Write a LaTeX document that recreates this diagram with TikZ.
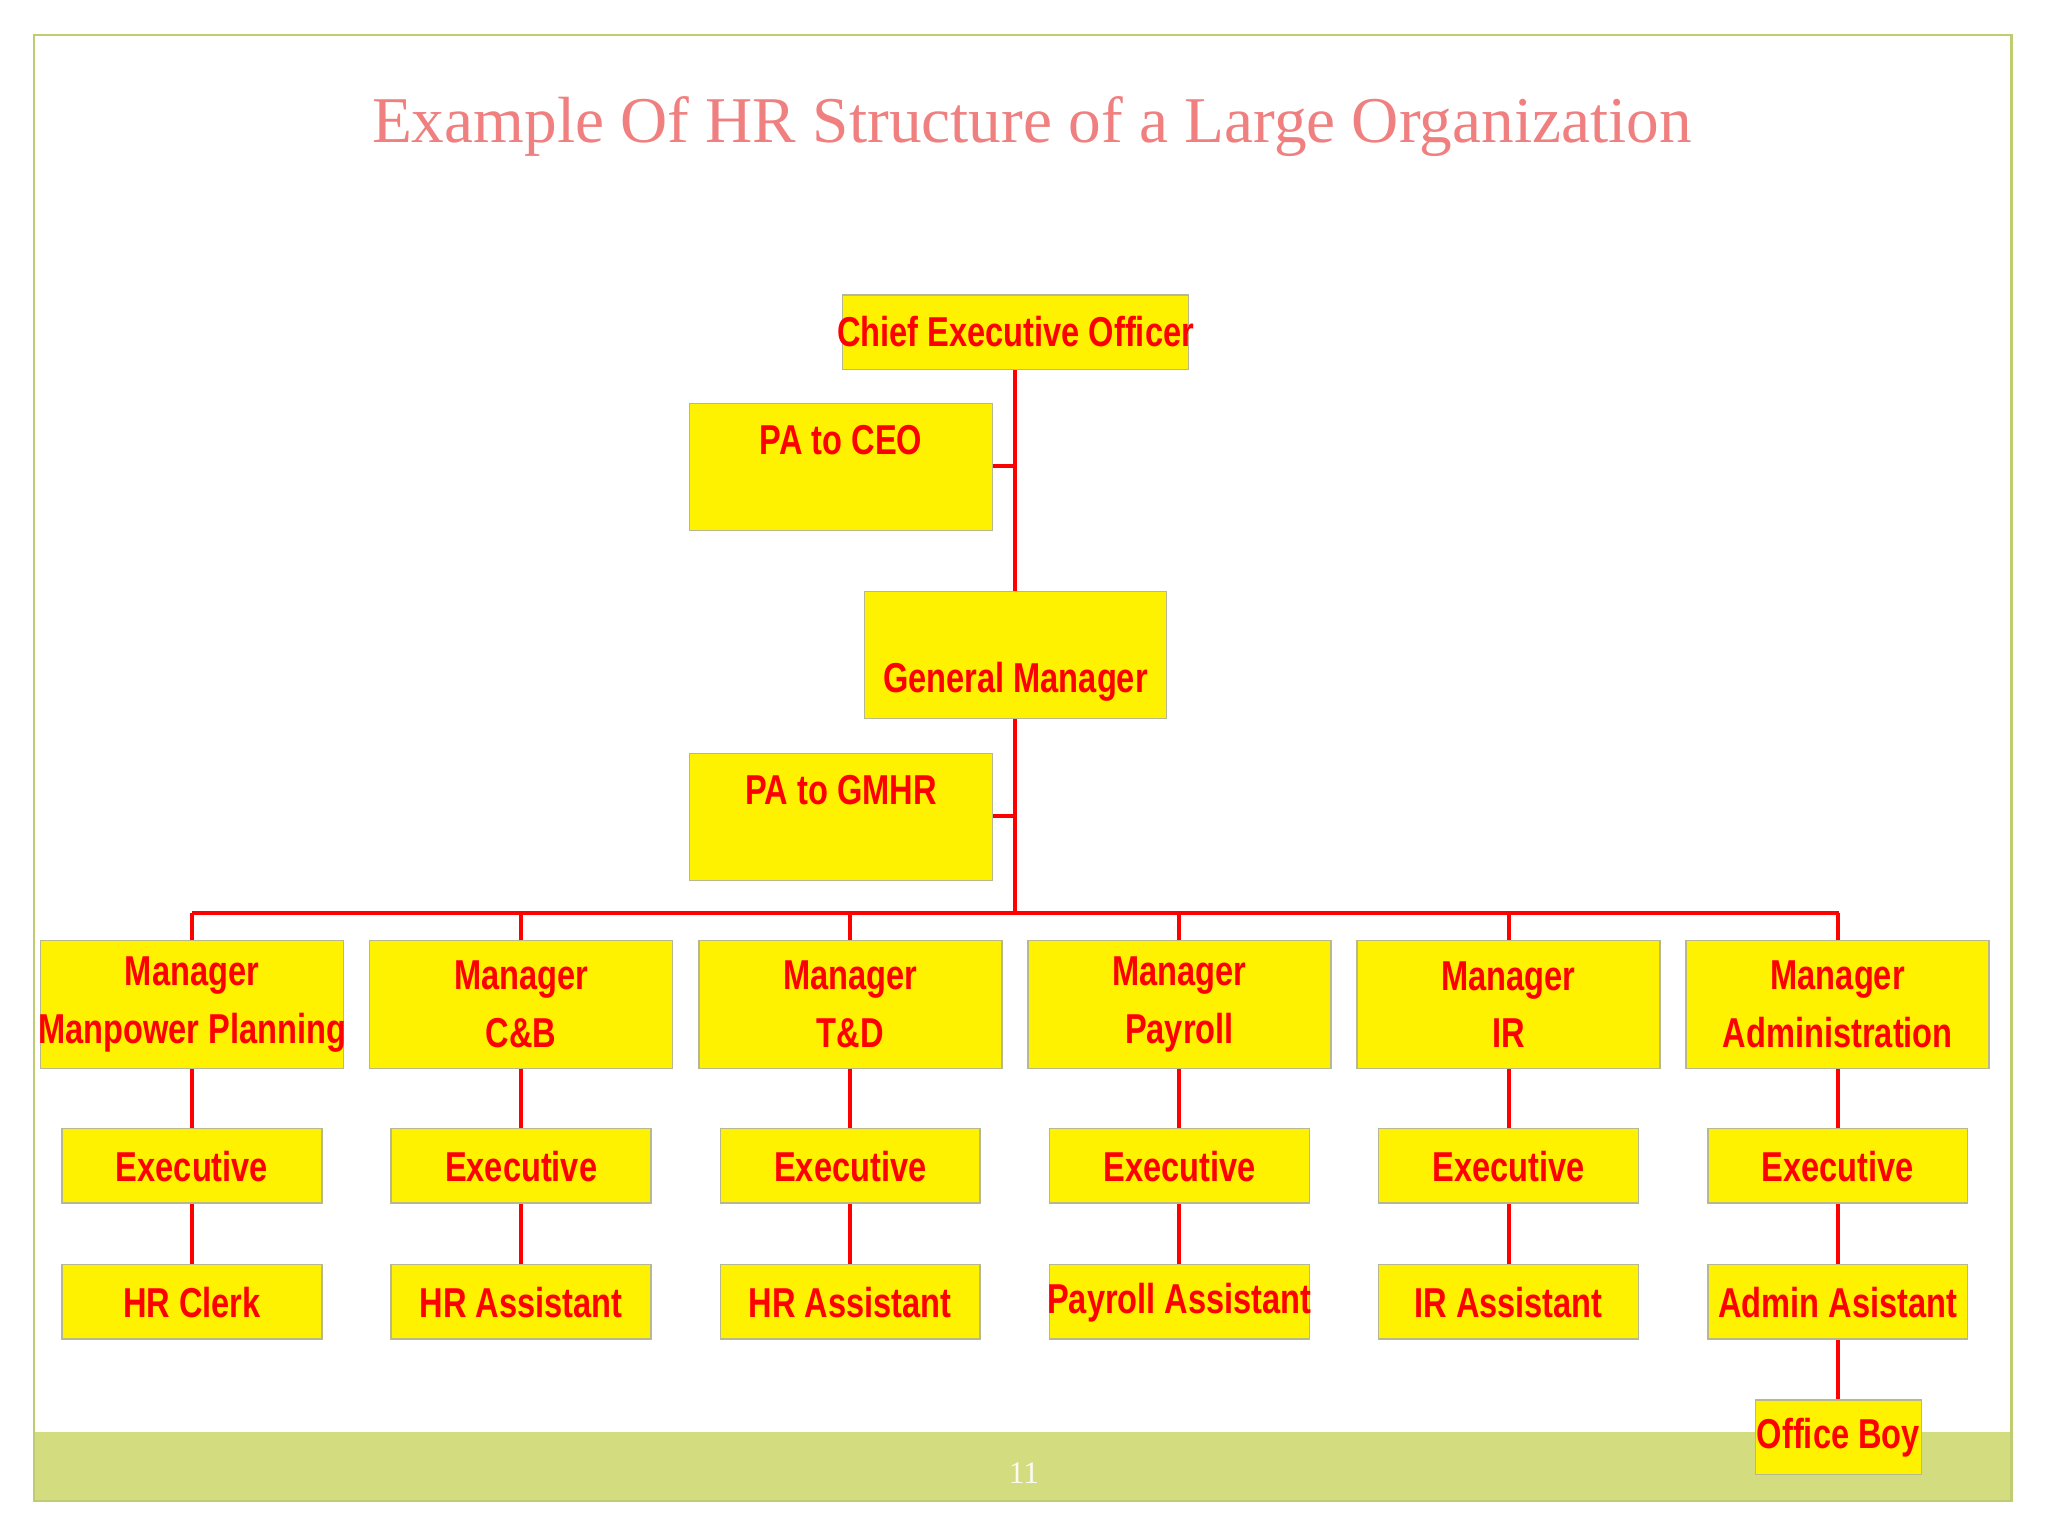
\documentclass[tikz,border=0pt]{standalone}
\usepackage{fontspec}
\setmainfont{Liberation Serif}
\newfontfamily\boxfont[FakeStretch=0.78]{Liberation Sans}
\definecolor{band}{HTML}{D4DC80}
\definecolor{frame}{HTML}{C0CC70}
\definecolor{ttl}{HTML}{F08080}
\definecolor{bx}{HTML}{B8B890}
\tikzset{x=0.5pt,y=-0.5pt,
  ob/.style={draw=bx,line width=0.6pt,fill=yellow,inner sep=0pt},
  tx/.style={text=red,font=\boxfont\bfseries\fontsize{16}{20}\selectfont,align=center},
  con/.style={draw=red,line width=1.5pt}}
\begin{document}
\begin{tikzpicture}
\useasboundingbox (0,0) rectangle (1568,1176);
\fill[band] (26,1096) rectangle (1540,1149);
\draw[frame,line width=0.8pt] (26,27) rectangle (1540,1149);
\node[text=ttl,font=\fontsize{25}{30}\selectfont] (title) at (790,97) {Example Of HR Structure of a Large Organization};
\node[text=white!90!band,font=\fontsize{12}{14}\selectfont] (pg) at (784,1128) {11};
% connectors
\draw[con] (777,283) -- (777,699);
\draw[con] (760,357) -- (777,357);
\draw[con] (760,625) -- (777,625);
\draw[con] (147,699) -- (1408,699);
\foreach \x in {147,399,651,903,1155,1407} {
  \draw[con] (\x,699) -- (\x,1000);
}
\draw[con] (1407,1000) -- (1407,1100);
% top boxes
\draw[ob] (645,226) rectangle (910,283);
\node[tx] (ceo) at (777.5,254) {Chief Executive Officer};
\draw[ob] (528,309) rectangle (760,406);
\node[tx] (pa1) at (644,337) {PA to CEO};
\draw[ob] (662,453) rectangle (893,550);
\node[tx] (gm) at (777.5,522) {General Manager};
\draw[ob] (528,577) rectangle (760,674);
\node[tx] (pa2) at (644,605) {PA to GMHR};
% columns
\foreach \x/\m/\a [count=\i] in {147/Manpower Planning/HR Clerk,399/C\&B/HR Assistant,651/T\&D/HR Assistant,903/Payroll/Payroll Assistant,1155/IR/IR Assistant,1407/Administration/Admin Asistant} {
  \draw[ob] (\x-116,720) rectangle (\x+116,818);
  \node[tx] (m\i) at (\x,769) {Manager\\[2pt]\m};
  \draw[ob] (\x-99.5,864) rectangle (\x+99.5,921);
  \node[tx] (e\i) at (\x,893) {Executive};
  \draw[ob] (\x-99.5,968) rectangle (\x+99.5,1025);
  \node[tx] (a\i) at (\x,997) {\a};
}
\draw[ob] (1344,1072) rectangle (1471,1129);
\node[tx] (ob) at (1407.5,1101) {Office Boy};
\end{tikzpicture}
\end{document}
